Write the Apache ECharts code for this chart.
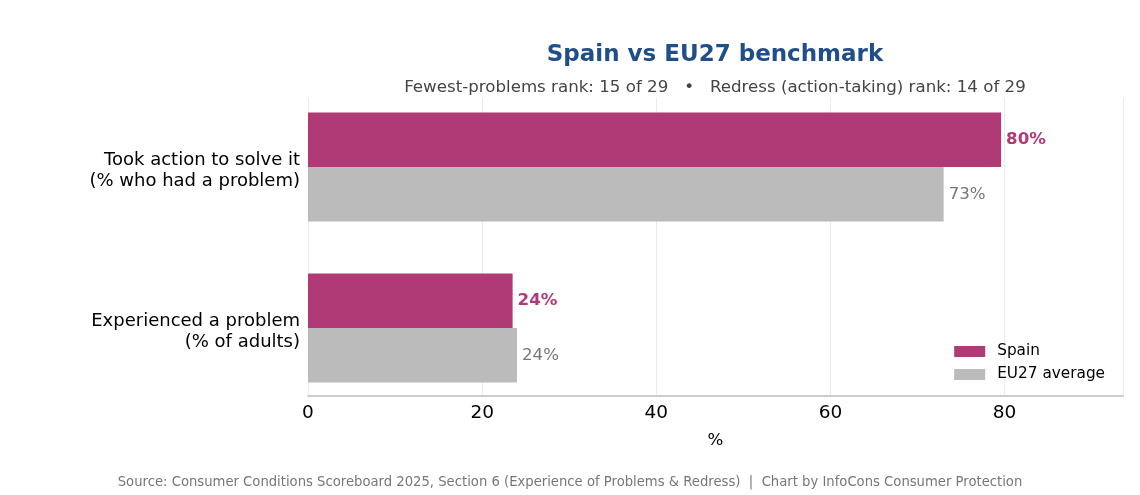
<!DOCTYPE html>
<html>
<head>
<meta charset="utf-8">
<script src="https://cdn.jsdelivr.net/npm/echarts@6/dist/echarts.min.js"></script>
<style>
  html, body { margin: 0; padding: 0; background: #fff; }
  #chart { width: 1140px; height: 495px; }
</style>
</head>
<body>
<div id="chart"></div>
<script>
    // bottom to top, like the source chart
    var categories = ['Experienced a problem\n(% of adults)', 'Took action to solve it\n(% who had a problem)'];
    var spainValues = [23.5, 79.6];
    var euValues = [24.0, 73.0];
    var xTicks = [0, 20, 40, 60, 80];

    var FONT = 'DejaVu Sans';
    var SPAIN = '#b03a76';
    var EU = '#bbbbbb';
    var XMAX = 93.6;

    var chart = echarts.init(document.getElementById('chart'));

    var option = {
        animation: false,
        textStyle: { fontFamily: FONT },
        title: [{
            text: 'Spain vs EU27 benchmark',
            left: 710, top: 39, textAlign: 'center',
            textStyle: { fontFamily: FONT, fontSize: 23, fontWeight: 'bold', color: '#1f4e8a' }
        }, {
            text: 'Fewest-problems rank: 15 of 29   \u2022   Redress (action-taking) rank: 14 of 29',
            left: 710, top: 74, textAlign: 'center',
            textStyle: { fontFamily: FONT, fontSize: 16.67, fontWeight: 'normal', color: '#444444' }
        }, {
            text: 'Source: Consumer Conditions Scoreboard 2025, Section 6 (Experience of Problems & Redress)  |  Chart by InfoCons Consumer Protection',
            left: 565, top: 471, textAlign: 'center',
            textStyle: { fontFamily: FONT, fontSize: 13.2, fontWeight: 'normal', color: '#777777' }
        }],
        legend: {
            orient: 'vertical',
            right: 30, top: 339,
            icon: 'rect',
            itemWidth: 31, itemHeight: 11, itemGap: 8,
            textStyle: { fontFamily: FONT, fontSize: 15.3, color: '#000', padding: [0, 0, 0, 7] },
            data: ['Spain', 'EU27 average']
        },
        // grid 0: frame, x ticks and gridlines; grid 1: the bars
        grid: [
            { left: 308, right: 17, top: 98, bottom: 99 },
            { left: 308, right: 17, top: 86.5, bottom: 86.5 }
        ],
        xAxis: [{
            gridIndex: 0,
            type: 'value',
            min: 0, max: XMAX, interval: 20,
            name: '%', nameLocation: 'middle', nameGap: 36,
            nameTextStyle: { fontFamily: FONT, fontSize: 16.67, color: '#000' },
            axisLine: { show: true, lineStyle: { color: '#cccccc', width: 2 } },
            axisTick: { show: false },
            axisLabel: {
                fontFamily: FONT, fontSize: 18.5, color: '#000', margin: 8,
                formatter: function (v) { return xTicks.indexOf(v) >= 0 ? String(v) : ''; },
                showMaxLabel: false
            },
            splitLine: { show: true, lineStyle: { color: '#ebebeb', width: 1 } }
        }, {
            gridIndex: 1,
            type: 'value',
            min: 0, max: XMAX,
            axisLine: { show: false },
            axisTick: { show: false },
            axisLabel: { show: false },
            splitLine: { show: false }
        }],
        yAxis: [{
            gridIndex: 0,
            type: 'value',
            show: false
        }, {
            gridIndex: 1,
            type: 'category',
            data: categories,
            axisLine: { show: false },
            axisTick: { show: false },
            axisLabel: {
                align: 'right', margin: 8,
                // small empty first line nudges the two text lines a little lower
                formatter: function (v) {
                    var lines = v.split('\n');
                    return '{s|}\n' + lines.map(function (s) { return '{a|' + s + '}'; }).join('\n');
                },
                rich: {
                    s: { lineHeight: 8, fontSize: 1 },
                    a: { fontFamily: FONT, fontSize: 18, color: '#000', lineHeight: 21, align: 'right' }
                }
            }
        }],
        series: [{
            name: 'Spain',
            type: 'bar',
            xAxisIndex: 1, yAxisIndex: 1,
            data: spainValues,
            barWidth: 54.5,
            barGap: '0%',
            itemStyle: { color: SPAIN },
            label: {
                show: true, position: 'right', distance: 5,
                fontFamily: FONT, fontSize: 16.67, fontWeight: 'bold', color: SPAIN,
                formatter: function (p) { return Math.round(p.value) + '%'; }
            }
        }, {
            name: 'EU27 average',
            type: 'bar',
            xAxisIndex: 1, yAxisIndex: 1,
            data: euValues,
            barWidth: 54.5,
            barGap: '0%',
            itemStyle: { color: EU },
            label: {
                show: true, position: 'right', distance: 5,
                fontFamily: FONT, fontSize: 16.67, color: '#777777',
                formatter: function (p) { return Math.round(p.value) + '%'; }
            }
        }]
    };

    chart.setOption(option);
</script>
</body>
</html>
